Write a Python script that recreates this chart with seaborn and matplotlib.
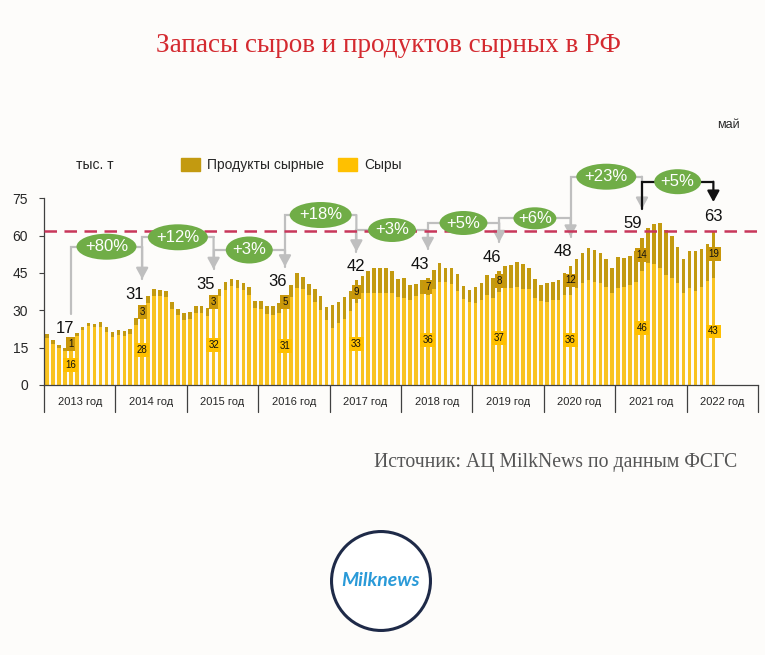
import numpy as np
import pandas as pd
import matplotlib
matplotlib.use("Agg")
import matplotlib.pyplot as plt
import seaborn as sns
from matplotlib.patches import Ellipse, Circle, Patch
import matplotlib.transforms as mtrans

# ---------------- data ----------------
years = ["2013 год", "2014 год", "2015 год", "2016 год", "2017 год",
         "2018 год", "2019 год", "2020 год", "2021 год", "2022 год"]

# monthly stocks, thousand tonnes (Jan 2013 .. May 2022)
cheese = [
    19.0, 16.6, 14.9, 13.8, 16.0, 19.5, 22.0, 23.6, 23.1, 23.5, 21.1, 19.2,   # 2013
    20.0, 19.5, 20.3, 24.2, 28.0, 32.9, 35.8, 35.8, 35.2, 30.6, 28.0, 26.3,   # 2014
    26.4, 28.9, 28.9, 27.9, 32.0, 35.6, 38.3, 39.6, 39.1, 38.0, 36.2, 30.8,   # 2015
    30.7, 28.5, 28.3, 28.9, 31.0, 35.3, 39.0, 38.4, 36.0, 33.5, 30.2, 26.3,   # 2016
    22.8, 24.9, 26.4, 29.9, 33.0, 37.0, 37.0, 36.9, 36.9, 37.0, 37.0, 35.5,   # 2017
    35.1, 34.3, 35.7, 36.5, 36.0, 38.5, 41.4, 41.2, 40.7, 37.8, 34.4, 33.2,   # 2018
    33.0, 34.0, 36.0, 35.0, 37.5, 39.0, 39.0, 39.3, 38.6, 38.5, 35.1, 33.6,   # 2019
    33.5, 34.1, 34.2, 36.3, 36.0, 38.9, 41.0, 42.3, 41.5, 41.1, 39.3, 37.0,   # 2020
    39.1, 39.2, 40.0, 41.5, 45.6, 49.0, 48.5, 47.2, 44.2, 42.8, 41.0, 37.1,   # 2021
    38.9, 37.7, 39.5, 41.8, 43.0,                                             # 2022
]
products = [
    1.5, 1.5, 1.2, 1.2, 1.0, 1.3, 1.5, 1.5, 1.5, 2.0, 2.0, 2.0,
    2.0, 2.3, 2.3, 2.7, 3.0, 3.0, 2.7, 2.5, 2.5, 2.7, 2.7, 2.7,
    2.8, 2.7, 2.7, 3.0, 3.0, 3.0, 3.0, 3.0, 3.0, 3.0, 3.0, 3.0,
    3.0, 3.3, 3.6, 4.0, 5.0, 4.7, 6.0, 5.0, 4.7, 5.0, 5.6, 5.0,
    9.3, 8.3, 9.0, 8.0, 9.0, 6.7, 8.7, 10.0, 10.0, 9.8, 8.7, 7.0,
    7.8, 6.0, 5.0, 5.5, 7.0, 7.8, 7.5, 6.0, 6.5, 6.7, 5.5, 5.0,
    6.5, 7.0, 8.0, 8.0, 8.3, 9.0, 9.4, 10.0, 10.0, 8.5, 7.5, 6.5,
    7.3, 7.4, 8.0, 8.7, 12.0, 11.7, 12.0, 12.8, 12.8, 12.0, 11.3, 10.0,
    12.4, 12.0, 12.0, 12.5, 13.6, 14.0, 16.0, 18.0, 18.0, 17.0, 14.4, 13.4,
    14.8, 16.0, 15.0, 15.0, 19.0,
]

may_total_labels = [17, 31, 35, 36, 42, 43, 46, 48, 59, 63]
may_cheese_labels = [16, 28, 32, 31, 33, 36, 37, 36, 46, 43]
may_products_labels = [1, 3, 3, 5, 9, 7, 8, 12, 14, 19]
growth_labels = ["+80%", "+12%", "+3%", "+18%", "+3%", "+5%", "+6%", "+23%", "+5%"]
yticks = [0, 15, 30, 45, 60, 75]

# ---------------- style ----------------
BG = "#fdfcfa"
C_CHEESE = "#F9C320"
C_PROD = "#C39A10"
C_GREEN = "#70AD47"
C_GRAY = "#BFBFBF"

sns.set_theme(style="white")
plt.rcParams["font.family"] = ["Liberation Sans", "DejaVu Sans"]

W, H = 765, 655
fig = plt.figure(figsize=(W / 100, H / 100), dpi=100, facecolor=BG)
ax_l, ax_r, ax_b, ax_t = 44, 758, 385, 198.3
ax = fig.add_axes([ax_l / W, (H - ax_b) / H, (ax_r - ax_l) / W, (ax_b - ax_t) / H])
ax.set_facecolor(BG)

df = pd.DataFrame({"month": np.arange(len(cheese)),
                   "cheese": cheese, "products": products})
df["total"] = df["cheese"] + df["products"]

sns.barplot(data=df, x="month", y="total", color=C_PROD, saturation=1,
            width=0.6, linewidth=0, errorbar=None, ax=ax)
sns.barplot(data=df, x="month", y="cheese", color=C_CHEESE, saturation=1,
            width=0.6, linewidth=0, errorbar=None, ax=ax)

ax.set_xlim(-0.5, 119.5)
ax.set_ylim(0, 75)
ax.set_xticks([])
ax.set_xlabel("")
ax.set_ylabel("")
ax.set_yticks(yticks)
ax.tick_params(axis="y", left=True, length=3.5, width=0.8, color="#404040",
               pad=8, labelsize=10, labelcolor="#262626")
for s in ["top", "right"]:
    ax.spines[s].set_visible(False)
ax.spines["left"].set_color("#404040")
ax.spines["left"].set_linewidth(0.9)
ax.spines["bottom"].set_color("#404040")
ax.spines["bottom"].set_linewidth(0.9)

# year category boxes
trans = mtrans.blended_transform_factory(ax.transData, ax.transAxes)
axh = ax_b - ax_t
for k in range(len(years) + 1):
    xb = -0.5 + 12 * k
    ax.plot([xb, xb], [0, -27 / axh], color="#404040", lw=0.9,
            transform=trans, clip_on=False)
for k, y in enumerate(years):
    ax.text(5.5 + 12 * k, -17 / axh, y, transform=trans, ha="center",
            va="center", fontsize=8, color="#262626")

# reference level (current stocks)
may_idx = [4 + 12 * k for k in range(len(may_total_labels))]
level_now = df["total"].iloc[-1]
ax.axhline(level_now, color="#C8365A", lw=1.8, ls=(0, (5, 3)), zorder=6)

# labels on May bars
dx = [-1.0, -1.3, -1.3, -1.3, 0.0, -1.3, -1.3, -1.3, -1.5, 0.0]
label_y = []
for k, i in enumerate(may_idx):
    top = df["total"].iloc[i]
    ly = top + 5.5
    label_y.append(ly)
    ax.text(i + dx[k], ly, str(may_total_labels[k]), ha="center", va="center",
            fontsize=12, color="#111111", clip_on=False, zorder=7)
    ax.text(i, df["cheese"].iloc[i] + df["products"].iloc[i] / 2,
            str(may_products_labels[k]), ha="center", va="center", fontsize=7,
            color="#111111", zorder=7,
            bbox=dict(boxstyle="square,pad=0.2", fc="#C9970A", ec="none"))
    ax.text(i, df["cheese"].iloc[i] / 2, str(may_cheese_labels[k]),
            ha="center", va="center", fontsize=7, color="#111111", zorder=7,
            bbox=dict(boxstyle="square,pad=0.2", fc="#FFC000", ec="none"))

# growth brackets
px_x = (ax_r - ax_l) / 120.0
px_y = axh / 75.0
levels_px = [246.7, 237.3, 250, 215, 230, 223, 218.3, 176.7, 181.7]
ell_px = [(60, 26), (60, 26), (47, 27), (62, 26), (48, 24), (48, 24),
          (43, 22), (60, 26), (47, 25)]
tips = [ly + 6.0 for ly in label_y]
for k in range(len(growth_labels)):
    x0, x1 = may_idx[k], may_idx[k + 1]
    lev = (ax_b - levels_px[k]) / px_y
    last = k == len(growth_labels) - 1
    c = "#111111" if last else C_GRAY
    z = 8 if last else 5
    ax.plot([x0, x0, x1], [tips[k], lev, lev], color=c, lw=1.6,
            clip_on=False, zorder=z, solid_joinstyle="miter")
    ax.annotate("", xy=(x1, tips[k + 1]), xytext=(x1, lev),
                arrowprops=dict(arrowstyle="-|>,head_length=0.55,head_width=0.3",
                                color=c, lw=1.6, shrinkA=0, shrinkB=0),
                annotation_clip=False, zorder=z)
    ew, eh = ell_px[k]
    e = Ellipse(((x0 + x1) / 2, lev), width=ew / px_x, height=eh / px_y,
                fc=C_GREEN, ec="none", clip_on=False, zorder=9)
    ax.add_patch(e)
    ax.text((x0 + x1) / 2, lev, growth_labels[k], ha="center", va="center",
            fontsize=12, color="white", zorder=10, clip_on=False)

# legend
handles = [Patch(color=C_PROD, label="Продукты сырные"),
           Patch(color="#FFC000", label="Сыры")]
ax.legend(handles=handles, ncol=2, frameon=False, loc="center left",
          bbox_to_anchor=(181 / W, 1 - 165 / H), bbox_transform=fig.transFigure,
          fontsize=10, handlelength=1.35, handleheight=1.05, handletextpad=0.55,
          columnspacing=1.0, borderpad=0, borderaxespad=0)

fig.text(76 / W, 1 - 165 / H, "тыс. т", fontsize=10, color="#262626",
         ha="left", va="center")
fig.text(728 / W, 1 - 125 / H, "май", fontsize=9, color="#262626",
         ha="center", va="center")

# title and source
fig.text(388 / W, 1 - 46 / H, "Запасы сыров и продуктов сырных в РФ",
         fontsize=19.5, color="#D42A30", ha="center", va="center",
         family=["Liberation Serif", "DejaVu Serif"])
fig.text(737 / W, 1 - 462 / H, "Источник: АЦ MilkNews по данным ФСГС",
         fontsize=14.2, color="#555555", ha="right", va="center",
         family=["Liberation Serif", "DejaVu Serif"])

# logo
lax = fig.add_axes([330 / W, (H - 632) / H, 102 / W, 102 / H])
lax.set_xlim(0, 1)
lax.set_ylim(0, 1)
lax.axis("off")
lax.add_patch(Circle((0.5, 0.5), 0.485, fc="white", ec="#1E2A48", lw=2.2))
lax.text(0.5, 0.5, "Milknews", ha="center", va="center", fontsize=14,
         color="#2A9AD8", fontstyle="italic", fontweight="bold",
         family=["Lato", "DejaVu Sans"])

fig.savefig("out.png", dpi=100, facecolor=BG)
